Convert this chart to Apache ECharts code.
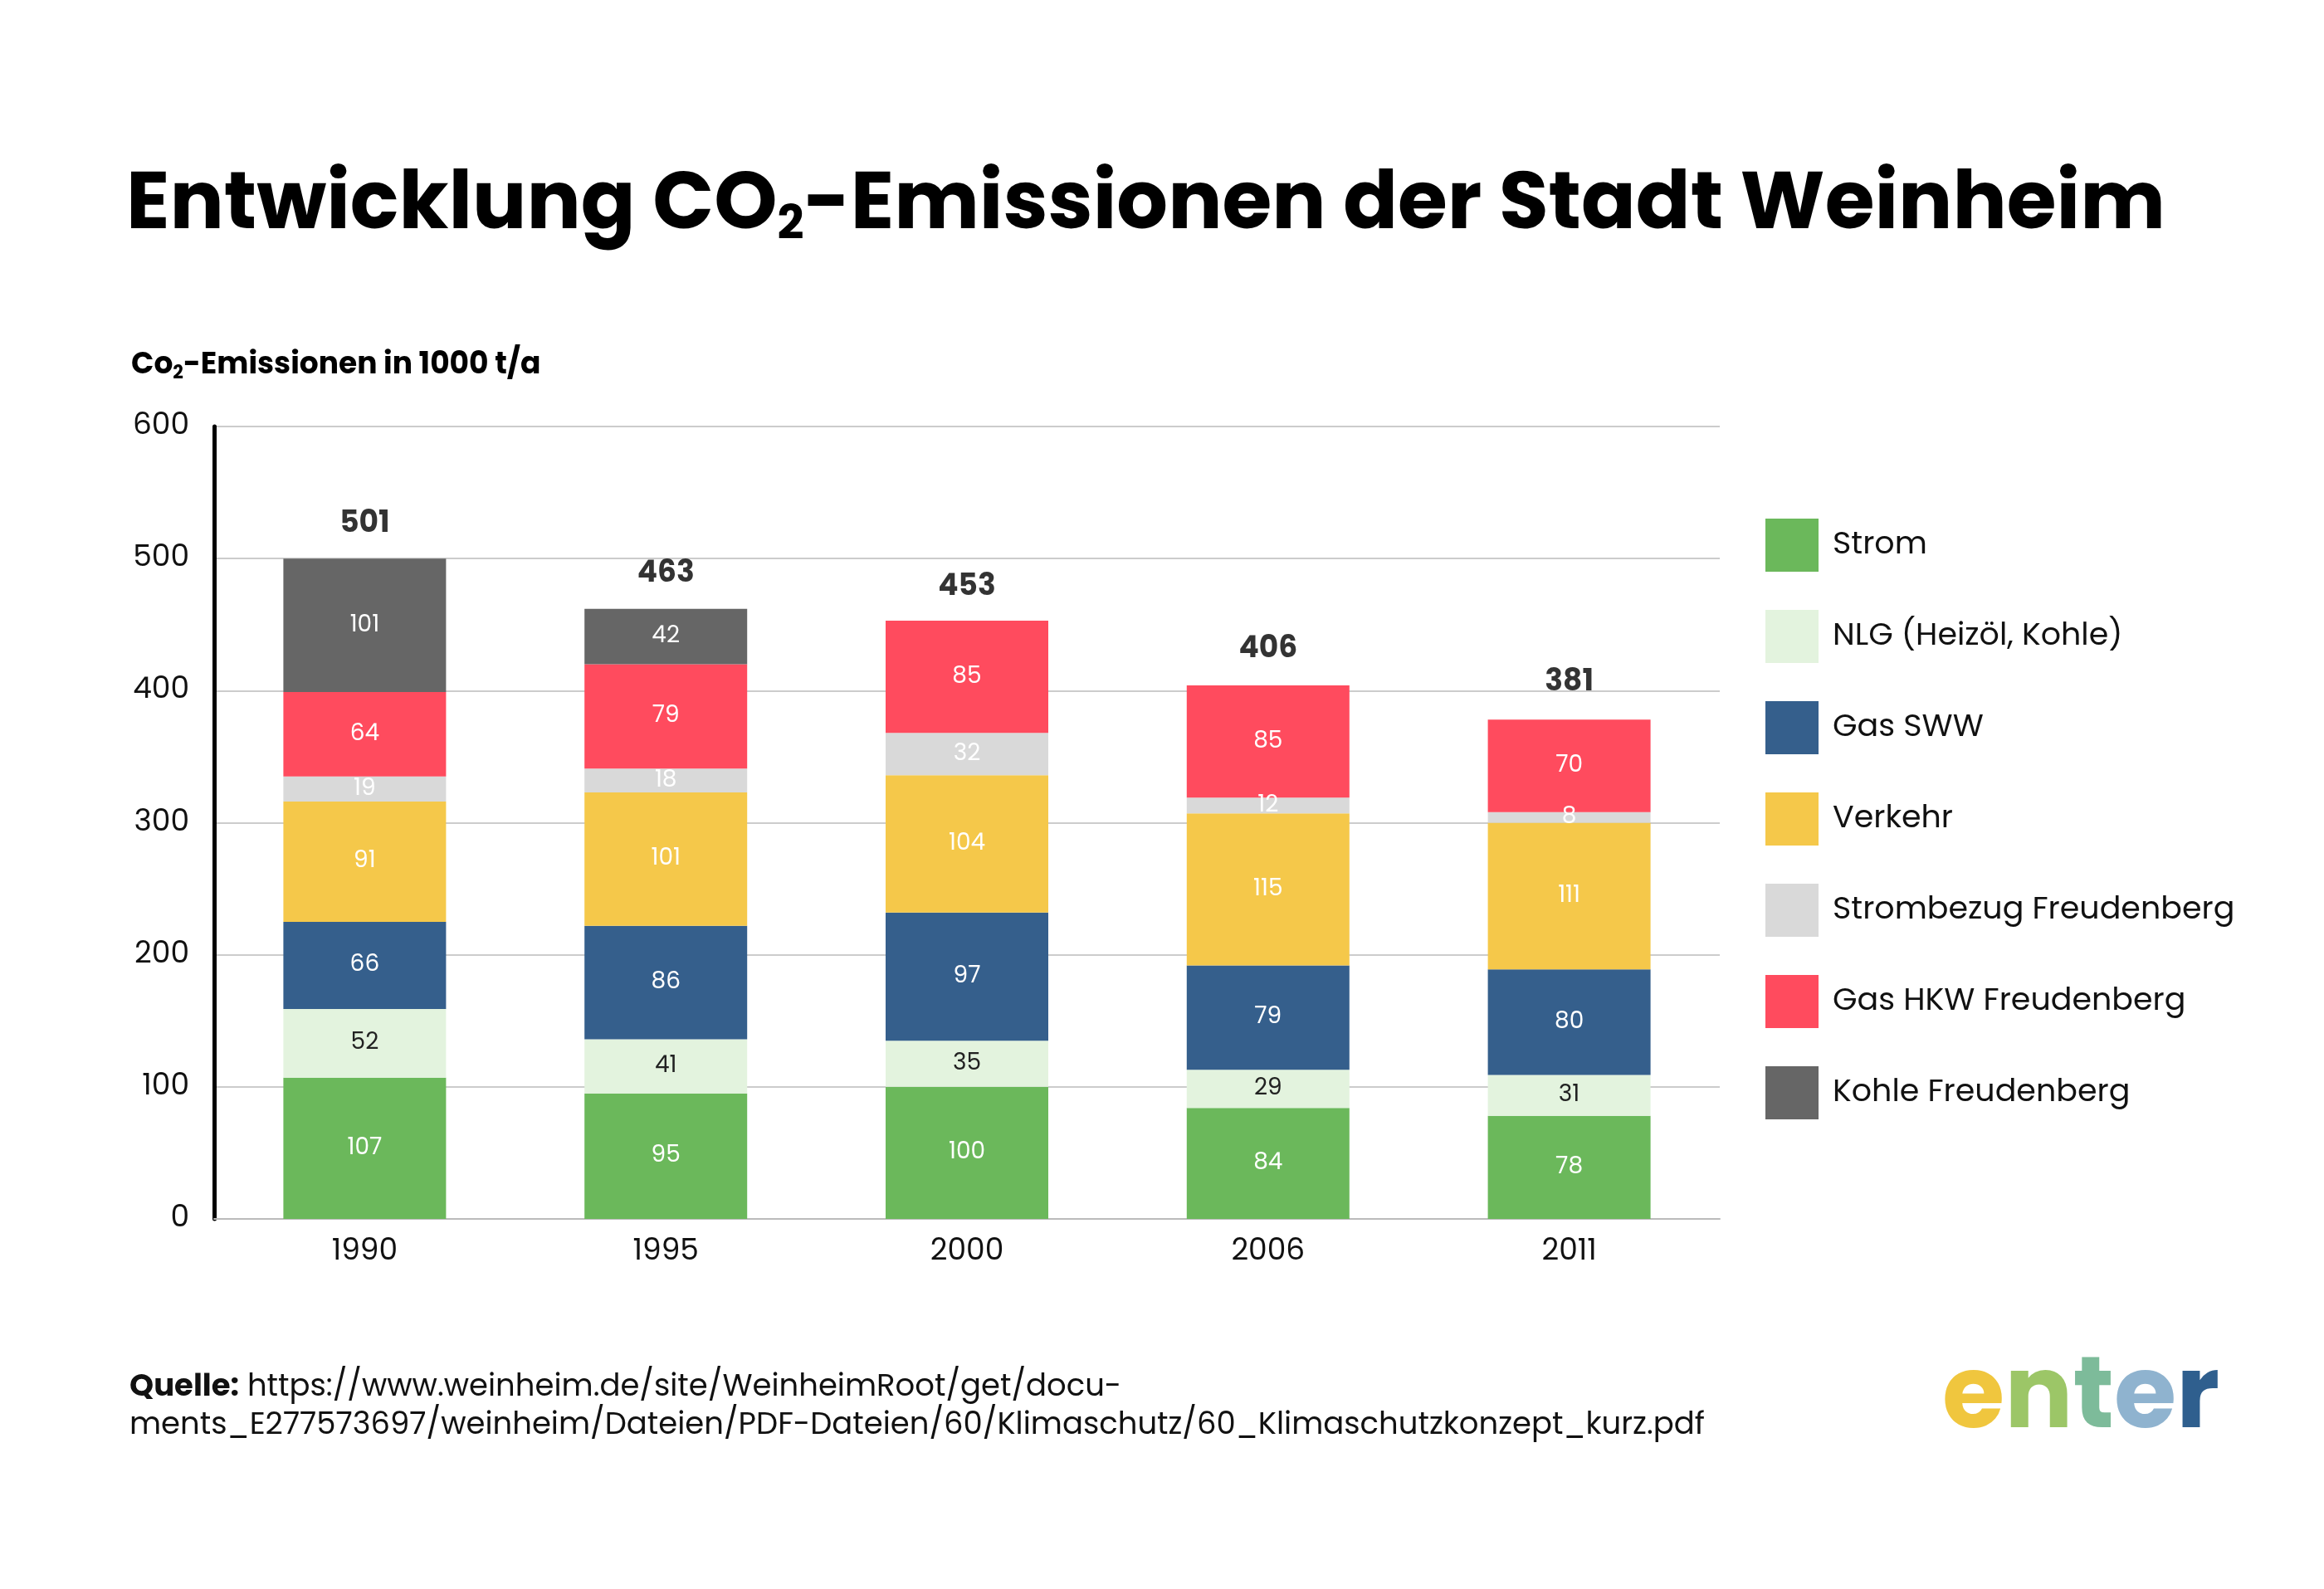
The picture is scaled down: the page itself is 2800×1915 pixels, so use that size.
<!DOCTYPE html>
<html><head><meta charset="utf-8">
<script src="https://cdn.jsdelivr.net/npm/echarts@6/dist/echarts.min.js"></script>
<style>html,body{margin:0;padding:0;background:#fff}#c{width:2800px;height:1915px}</style>
</head><body><div id="c"></div>
<script>
const years = ['1990','1995','2000','2006','2011'];
const strom = [107,95,100,84,78];
const nlg = [52,41,35,29,31];
const gasSWW = [66,86,97,79,80];
const verkehr = [91,101,104,115,111];
const strombezug = [19,18,32,12,8];
const gasHKW = [64,79,85,85,70];
const kohle = [101,42,0,0,0];
const totals = [501,463,453,406,381];
const yTicks = [0,100,200,300,400,500,600];

const F = 'Poppins, "Open Sans", Inter, sans-serif';
const defs = [
  ['Strom', strom, '#6bb85b', '#fff'],
  ['NLG (Heizöl, Kohle)', nlg, '#e3f3de', '#222'],
  ['Gas SWW', gasSWW, '#355f8c', '#fff'],
  ['Verkehr', verkehr, '#f5c84a', '#fff'],
  ['Strombezug Freudenberg', strombezug, '#d9d9d9', '#fff'],
  ['Gas HKW Freudenberg', gasHKW, '#ff4b5e', '#fff'],
  ['Kohle Freudenberg', kohle, '#666666', '#fff']
];
const series = defs.map(d => ({
  name: d[0], type: 'bar', stack: 'a', barWidth: 196,
  data: d[1].map(v => v === 0 ? null : v),
  itemStyle: {color: d[2]},
  label: {show: true, color: d[3], fontSize: 28, fontFamily: F}
}));
series.push({
  type: 'scatter', data: totals, symbolSize: 0, silent: true,
  label: {show: true, position: 'top', distance: 22, fontSize: 36, fontWeight: 'bold', color: '#000', fontFamily: F,
    formatter: p => p.value}
});
const logoCols = ['#f0c63e', '#9cc667', '#7dbb9a', '#8fb3cf', '#2f5f8e'];
const chart = echarts.init(document.getElementById('c'));
chart.setOption({
  animation: false,
  textStyle: {fontFamily: F},
  grid: {left: 258, right: 728, top: 514, bottom: 446},
  xAxis: {type: 'category', data: years,
    axisLine: {lineStyle: {color: '#bbb', width: 2}}, axisTick: {show: false},
    axisLabel: {fontSize: 36, color: '#111', margin: 22, fontFamily: F}},
  yAxis: {type: 'value', min: 0, max: 600, interval: 100,
    axisLine: {show: true, lineStyle: {color: '#000', width: 5}},
    axisTick: {show: false},
    axisLabel: {fontSize: 36, color: '#111', margin: 30, fontFamily: F, formatter: v => yTicks.includes(v) ? v : ''},
    splitLine: {lineStyle: {color: '#ccc', width: 2}}},
  legend: {orient: 'vertical', left: 2122, top: 620, itemWidth: 64, itemHeight: 64, itemGap: 46,
    icon: 'rect', data: defs.map(d => d[0]),
    textStyle: {fontSize: 38, color: '#111', fontFamily: F, padding: [0, 0, 0, 12]}},
  graphic: [
    {type: 'text', left: 152, top: 202, style: {
      text: '{a|Entwicklung CO}{s|2}{a|-Emissionen der Stadt Weinheim}',
      rich: {a: {fontSize: 97, fontWeight: 'bold', fill: '#000', fontFamily: F},
             s: {fontSize: 56, fontWeight: 'bold', fill: '#000', fontFamily: F, padding: [46, 0, 0, 0]}}}},
    {type: 'text', left: 158, top: 423, style: {
      text: '{a|Co}{s|2}{a|-Emissionen in 1000 t/a}',
      rich: {a: {fontSize: 36, fontWeight: 'bold', fill: '#000', fontFamily: F},
             s: {fontSize: 22, fontWeight: 'bold', fill: '#000', fontFamily: F, padding: [18, 0, 0, 0]}}}},
    {type: 'text', left: 156, top: 1650, style: {
      text: '{b|Quelle:} https://www.weinheim.de/site/WeinheimRoot/get/docu-\nments_E277573697/weinheim/Dateien/PDF-Dateien/60/Klimaschutz/60_Klimaschutzkonzept_kurz.pdf',
      fontSize: 37, lineHeight: 46, fill: '#111', fontFamily: F,
      rich: {b: {fontSize: 37, fontWeight: 'bold', fill: '#111', fontFamily: F}}}},
    {type: 'text', left: 2340, top: 1628, style: {
      text: '{a|e}{b|n}{c|t}{d|e}{e|r}', fontSize: 122, fontWeight: 'bold', fontFamily: F,
      rich: Object.fromEntries(['a','b','c','d','e'].map((k, i) => [k, {fontSize: 122, fontWeight: 'bold', fontFamily: F, fill: logoCols[i]}]))}}
  ],
  series: series
});
</script></body></html>
